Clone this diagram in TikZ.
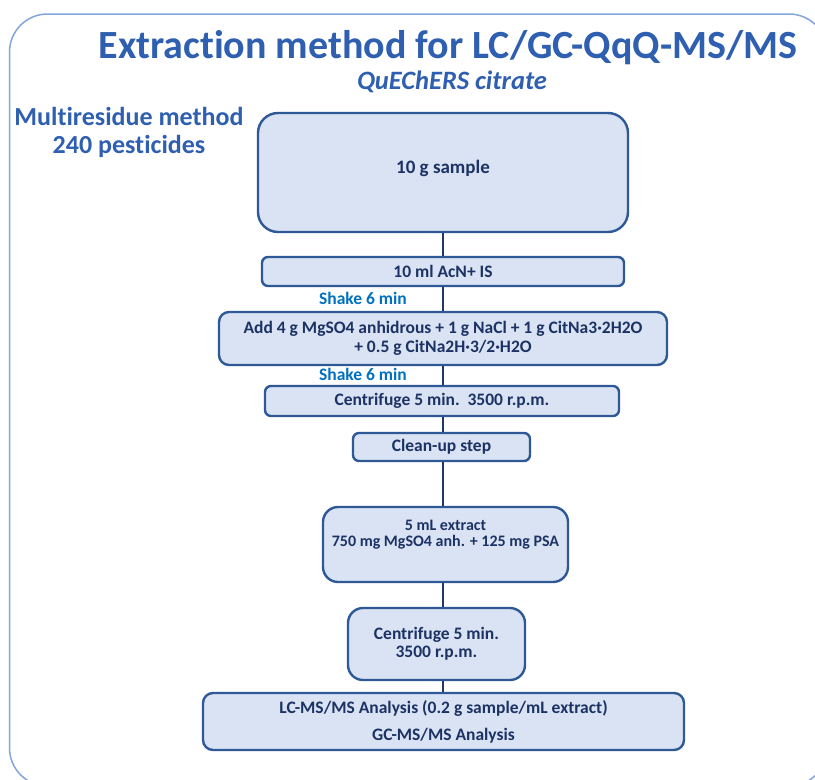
\documentclass[tikz,border=0pt]{standalone}
\usepackage{fontspec}
\setmainfont{Carlito}[Ligatures=NoCommon]
\definecolor{titleblue}{RGB}{47,95,176}
\definecolor{navy}{RGB}{28,50,100}
\definecolor{shakeblue}{RGB}{0,112,192}
\definecolor{boxfill}{RGB}{218,227,243}
\definecolor{boxborder}{RGB}{47,88,150}
\definecolor{framec}{RGB}{130,165,220}
\definecolor{linec}{RGB}{31,56,100}
\tikzset{
  box/.style={draw=boxborder, fill=boxfill, line width=2.4pt, inner sep=0pt, align=center,
    text=navy, font=\fontsize{17.5}{19}\selectfont\bfseries},
  boxtext/.style={text=navy, font=\fontsize{17.5}{19}\selectfont\bfseries, align=center, inner sep=0pt},
  shake/.style={text=shakeblue, font=\fontsize{17.5}{19}\selectfont\bfseries, inner sep=0pt},
  conn/.style={draw=linec, line width=2.4pt},
  bluetitle/.style={text=titleblue, inner sep=0pt, align=center}
}
\begin{document}
\begin{tikzpicture}[x=1pt,y=-1pt]
\useasboundingbox (0,0) rectangle (815,780);
% outer frame
\draw[framec, line width=1.5pt, rounded corners=38pt] (9.5,14) rectangle (827,786);
% titles
\node[bluetitle, font=\fontsize{40}{44}\selectfont\bfseries] (title) at (448,48) {Extraction method for LC/GC-QqQ-MS/MS};
\node[bluetitle, font=\fontsize{26.5}{28}\selectfont\bfseries\itshape] (sub) at (452,82) {QuEChERS citrate};
\node[bluetitle, font=\fontsize{26}{28}\selectfont\bfseries] (multi) at (129,132) {Multiresidue method\\240 pesticides};
% spine
\coordinate (spine) at (443,0);
% boxes
\node[box, rounded corners=20pt, minimum width=370, minimum height=119] (sample) at (443,172.5) {};
\node[boxtext, font=\fontsize{19}{21}\selectfont\bfseries] (samplet) at (443,168) {10 g sample};
\node[box, rounded corners=6pt, minimum width=362, minimum height=29] (acn) at (443,271.5) {10 ml AcN+ IS};
\node[shake] (shake1) at (363,298) {Shake 6 min};
\node[box, rounded corners=10pt, minimum width=448, minimum height=53] (add) at (443,338.5) {Add 4 g MgSO4 anhidrous + 1 g NaCl + 1 g CitNa3·2H2O\\+ 0.5 g CitNa2H·3/2·H2O};
\node[shake] (shake2) at (363,374) {Shake 6 min};
\node[box, rounded corners=6pt, minimum width=354, minimum height=30] (cent1) at (442,401) {Centrifuge 5 min.\ \ 3500 r.p.m.};
\node[box, rounded corners=6pt, minimum width=177, minimum height=28] (clean) at (441.5,447) {Clean-up step};
\node[box, rounded corners=15pt, minimum width=245, minimum height=75] (ext) at (445.5,544.5) {};
\node[boxtext, font=\fontsize{16}{16}\selectfont\bfseries] (extt) at (445.5,535) {5 mL extract\\750 mg MgSO4 anh. + 125 mg PSA};
\node[box, rounded corners=15pt, minimum width=177, minimum height=72, font=\fontsize{17.5}{18}\selectfont\bfseries] (cent2) at (436.5,644) {Centrifuge 5 min.\\3500 r.p.m.};
\node[box, rounded corners=10pt, minimum width=481, minimum height=57, font=\fontsize{17.5}{27}\selectfont\bfseries] (anal) at (443.5,721.5) {LC-MS/MS Analysis (0.2 g sample/mL extract)\\GC-MS/MS Analysis};
% connectors
\draw[conn] (sample.south -| spine) -- (acn.north -| spine);
\draw[conn] (acn.south -| spine) -- (add.north -| spine);
\draw[conn] (add.south -| spine) -- (cent1.north -| spine);
\draw[conn] (cent1.south -| spine) -- (clean.north -| spine);
\draw[conn] (clean.south -| spine) -- (ext.north -| spine);
\draw[conn] (ext.south -| spine) -- (cent2.north -| spine);
\draw[conn] (cent2.south -| spine) -- (anal.north -| spine);
\end{tikzpicture}
\end{document}
